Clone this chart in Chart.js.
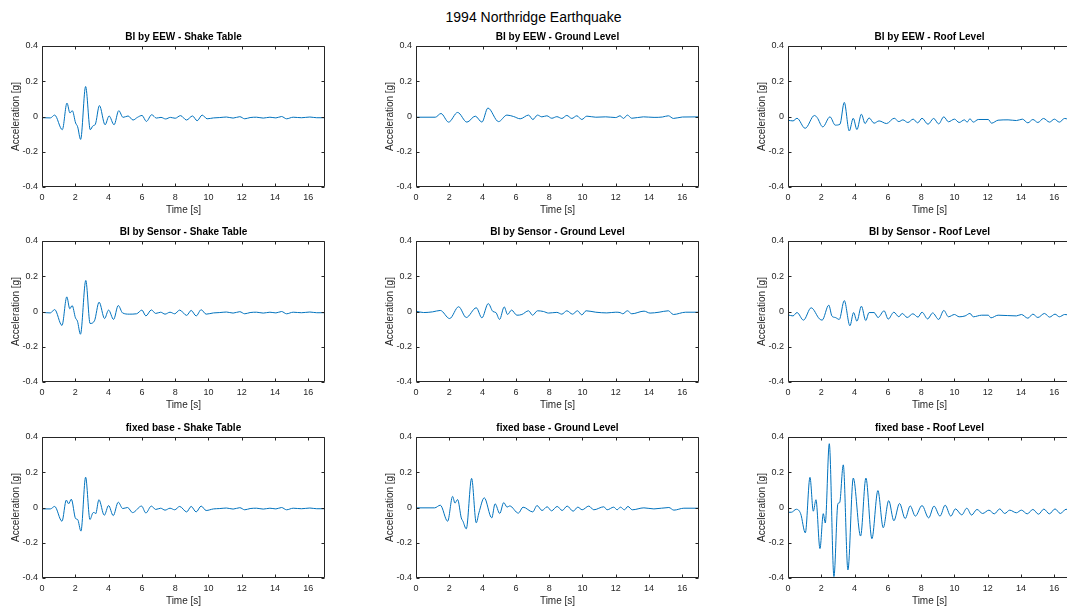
<!DOCTYPE html>
<html>
<head>
<meta charset="utf-8">
<script src="https://cdn.jsdelivr.net/npm/chart.js@4.4.1/dist/chart.umd.min.js"></script>
<style>
  body {
    margin: 0;
    width: 1067px;
    height: 608px;
    overflow: hidden;
    background: #fff;
    position: relative;
    font-family: "Liberation Sans", Arial, sans-serif;
  }
  #main-title {
    position: absolute;
    left: 0;
    top: 9px;
    width: 1067px;
    text-align: center;
    font-size: 14px;
    line-height: 16px;
    color: #000;
  }
  .panel {
    position: absolute;
  }
</style>
</head>
<body>
<div id="main-title">1994 Northridge Earthquake</div>
<div id="panels"></div>
<script>
// tick labels
const xTicks = [0, 2, 4, 6, 8, 10, 12, 14, 16];
const yTicks = [-0.4, -0.2, 0, 0.2, 0.4];

const panelTitles = [
  "BI by EEW - Shake Table", "BI by EEW - Ground Level", "BI by EEW - Roof Level",
  "BI by Sensor - Shake Table", "BI by Sensor - Ground Level", "BI by Sensor - Roof Level",
  "fixed base - Shake Table", "fixed base - Ground Level", "fixed base - Roof Level",
];

// BI by EEW - Shake Table
const eewTableT = [0, 0.5, 0.76, 1.22, 1.5, 1.68, 1.82, 2.02, 2.14, 2.32,
  2.62, 2.9, 3.06, 3.2, 3.45, 3.79, 4.03, 4.33, 4.61, 4.87,
  5.17, 5.47, 5.73, 6.01, 6.27, 6.59, 6.87, 7.15, 7.43, 7.71,
  8.0, 8.32, 8.68, 9.04, 9.32, 9.62, 9.92, 10.3, 10.68, 11.08,
  11.48, 11.88, 12.18, 12.5, 12.89, 13.29, 13.69, 14.05, 14.39, 14.69,
  15.09, 15.59, 16.09, 16.5, 17];
const eewTableA = [-0.007, -0.008, 0.008, -0.075, 0.076, 0.02, 0.033, -0.037, -0.058, -0.13,
  0.17, -0.075, -0.053, -0.045, 0.062, -0.047, 0.003, -0.047, 0.033, -0.005,
  0.003, -0.02, -0.005, 0.006, -0.028, 0.01, -0.009, -0.005, -0.014, -0.005,
  -0.01, 0.005, -0.02, 0.003, -0.024, 0.008, -0.013, -0.008, -0.006, -0.003,
  -0.009, -0.001, -0.013, -0.006, -0.004, -0.009, -0.004, -0.008, 0.0, -0.013,
  -0.004, -0.007, -0.003, -0.007, -0.007];

// BI by EEW - Ground Level
const eewGroundT = [0, 1.16, 1.5, 1.96, 2.5, 3.06, 3.56, 3.96, 4.32, 4.96,
  5.46, 5.86, 6.26, 6.76, 7.02, 7.3, 7.56, 7.86, 8.16, 8.46,
  8.76, 9.06, 9.36, 9.66, 9.96, 10.26, 10.8, 11.4, 12.0, 12.26,
  12.46, 12.7, 12.96, 13.66, 14.3, 14.8, 15.16, 15.46, 16.0, 17];
const eewGroundA = [-0.004, -0.004, 0.017, -0.032, 0.023, -0.032, 0.002, -0.032, 0.048, -0.029,
  0.008, 0.0, -0.013, 0.008, -0.017, 0.008, -0.002, 0.004, -0.01, -0.001,
  -0.011, 0.006, -0.011, 0.004, -0.017, 0.002, -0.004, -0.002, -0.006, 0.004,
  -0.011, 0.008, -0.01, -0.002, -0.005, -0.003, 0.004, -0.011, -0.003, -0.002];

// BI by EEW - Roof Level
const eewRoofT = [0, 0.3, 0.54, 1.03, 1.59, 1.75, 2.09, 2.52, 2.84, 3.12,
  3.38, 3.68, 3.92, 4.14, 4.41, 4.63, 4.87, 5.17, 5.47, 5.92,
  6.38, 6.66, 6.9, 7.2, 7.52, 7.79, 8.05, 8.41, 8.75, 9.05,
  9.36, 9.64, 10.0, 10.28, 10.6, 10.76, 10.93, 11.13, 11.43, 12.03,
  12.23, 12.62, 13.22, 13.72, 14.08, 14.41, 14.71, 15.01, 15.35, 15.71,
  16.0, 16.3, 16.62, 17];
const eewRoofA = [-0.021, -0.025, -0.01, -0.067, 0.006, -0.006, -0.059, -0.002, -0.049, -0.044,
  0.08, -0.082, -0.01, -0.074, 0.013, -0.04, -0.008, -0.038, -0.025, -0.04,
  -0.01, -0.029, -0.019, -0.034, -0.015, -0.036, -0.01, -0.044, -0.011, -0.042,
  -0.002, -0.03, -0.015, -0.034, -0.019, -0.032, -0.013, -0.032, -0.017, -0.017,
  -0.038, -0.021, -0.019, -0.023, -0.015, -0.036, -0.017, -0.034, -0.011, -0.032,
  -0.015, -0.032, -0.011, -0.024];

// BI by Sensor - Shake Table
const sensorTableT = [0, 0.5, 0.76, 1.2, 1.49, 1.67, 1.81, 2.01, 2.13, 2.31,
  2.63, 2.89, 3.15, 3.43, 3.76, 4.0, 4.3, 4.58, 4.84, 5.24,
  5.68, 6.0, 6.24, 6.57, 6.83, 7.13, 7.39, 7.69, 7.97, 8.27,
  8.69, 8.96, 9.26, 9.56, 9.86, 10.3, 10.68, 11.08, 11.48, 11.88,
  12.18, 12.5, 12.89, 13.29, 13.69, 14.05, 14.39, 14.69, 15.09, 15.59,
  16.09, 16.5, 17];
const sensorTableA = [-0.005, -0.008, 0.011, -0.079, 0.083, 0.015, 0.034, -0.036, -0.055, -0.129,
  0.176, -0.068, -0.053, 0.053, -0.04, 0.008, -0.045, 0.034, -0.008, -0.015,
  -0.013, 0.008, -0.025, 0.009, -0.011, -0.004, -0.015, -0.004, -0.013, 0.008,
  -0.022, 0.006, -0.025, 0.01, -0.015, -0.008, -0.006, -0.003, -0.009, -0.001,
  -0.013, -0.006, -0.004, -0.009, -0.004, -0.008, 0.0, -0.013, -0.004, -0.007,
  -0.003, -0.007, -0.007];

// BI by Sensor - Ground Level
const sensorGroundT = [0, 0.46, 1.0, 1.46, 2.02, 2.56, 3.02, 3.62, 3.96, 4.34,
  4.62, 4.8, 5.02, 5.3, 5.5, 5.74, 6.06, 6.36, 6.76, 7.0,
  7.3, 7.66, 7.96, 8.46, 8.76, 9.06, 9.4, 9.7, 9.96, 10.22,
  10.8, 11.46, 12.0, 12.26, 12.42, 12.7, 12.96, 13.7, 14.06, 14.6,
  15.16, 15.46, 16.2, 17];
const sensorGroundA = [0.002, -0.006, -0.002, 0.006, -0.04, 0.027, -0.034, 0.021, -0.036, 0.045,
  0.0, -0.006, -0.045, 0.026, -0.017, 0.008, -0.021, -0.017, 0.004, -0.021,
  0.004, 0.0, -0.009, -0.005, -0.015, 0.004, -0.015, 0.004, -0.019, 0.004,
  -0.004, -0.008, -0.004, -0.006, -0.013, 0.004, -0.013, 0.002, -0.009, -0.004,
  0.004, -0.017, -0.004, -0.004];

// BI by Sensor - Roof Level
const sensorRoofT = [0, 0.3, 0.54, 0.93, 1.39, 1.89, 2.05, 2.45, 2.64, 2.84,
  3.08, 3.38, 3.72, 3.94, 4.14, 4.41, 4.67, 4.87, 5.17, 5.41,
  5.77, 6.02, 6.36, 6.66, 6.86, 7.16, 7.5, 7.81, 8.05, 8.39,
  8.69, 9.05, 9.36, 9.64, 10.0, 10.28, 10.64, 10.93, 11.13, 11.63,
  12.03, 12.19, 12.62, 13.72, 14.02, 14.41, 14.71, 15.01, 15.41, 15.71,
  16.04, 16.3, 16.62, 17];
const sensorRoofA = [-0.019, -0.025, -0.006, -0.049, 0.021, -0.042, -0.049, 0.036, -0.026, -0.034,
  -0.045, 0.062, -0.081, -0.006, -0.055, 0.03, -0.051, -0.006, -0.006, -0.034,
  0.004, -0.043, -0.004, -0.03, -0.011, -0.034, -0.013, -0.032, -0.004, -0.042,
  -0.008, -0.045, 0.006, -0.03, -0.017, -0.03, -0.025, -0.011, -0.03, -0.021,
  -0.021, -0.036, -0.021, -0.025, -0.017, -0.038, -0.015, -0.034, -0.011, -0.032,
  -0.015, -0.03, -0.017, -0.022];

// fixed base - Shake Table
const fixedTableT = [0, 0.5, 0.76, 1.2, 1.46, 1.6, 1.76, 2.02, 2.14, 2.34,
  2.62, 2.88, 3.06, 3.14, 3.22, 3.42, 3.74, 4.0, 4.28, 4.58,
  4.85, 5.14, 5.44, 5.98, 6.24, 6.57, 6.83, 7.13, 7.39, 7.69,
  7.97, 8.27, 8.69, 8.96, 9.26, 9.56, 9.86, 10.3, 10.68, 11.08,
  11.48, 11.88, 12.18, 12.5, 12.89, 13.29, 13.69, 14.05, 14.39, 14.69,
  15.09, 15.59, 16.09, 16.5, 17];
const fixedTableA = [-0.008, -0.008, 0.006, -0.078, 0.042, 0.021, 0.047, -0.063, -0.068, -0.134,
  0.172, -0.068, -0.03, -0.028, -0.036, 0.044, -0.044, 0.011, -0.046, 0.03,
  -0.006, 0.0, -0.029, 0.008, -0.031, 0.008, -0.011, -0.004, -0.015, -0.004,
  -0.013, 0.006, -0.025, 0.006, -0.025, 0.008, -0.017, -0.008, -0.006, -0.003,
  -0.009, -0.001, -0.013, -0.006, -0.004, -0.009, -0.004, -0.008, 0.0, -0.013,
  -0.004, -0.007, -0.003, -0.007, -0.007];

// fixed base - Ground Level
const fixedGroundT = [0, 1.12, 1.46, 1.9, 2.2, 2.34, 2.5, 2.72, 2.82, 3.02,
  3.34, 3.62, 3.78, 4.1, 4.55, 4.75, 5.03, 5.27, 5.47, 5.63,
  6.15, 6.43, 7.01, 7.27, 7.57, 7.88, 8.14, 8.48, 8.78, 9.08,
  9.44, 9.72, 9.98, 10.38, 10.68, 11.28, 11.48, 11.88, 12.08, 12.28,
  12.52, 12.73, 12.99, 13.69, 14.29, 15.19, 15.49, 16.09, 17];
const fixedGroundA = [-0.002, -0.002, 0.013, -0.078, 0.063, 0.025, 0.045, -0.059, -0.078, -0.121,
  0.165, -0.087, -0.03, 0.055, -0.059, 0.021, -0.034, 0.028, 0.002, 0.009,
  -0.032, 0.002, -0.025, 0.011, -0.017, 0.004, -0.019, 0.006, -0.017, 0.008,
  -0.021, 0.002, -0.013, 0.008, -0.013, 0.004, -0.013, 0.002, -0.013, 0.002,
  -0.013, 0.006, -0.013, -0.002, -0.008, 0.0, -0.015, -0.004, -0.004];

// fixed base - Roof Level
const fixedRoofT = [0, 0.2, 0.5, 0.76, 1.04, 1.32, 1.52, 1.68, 1.92, 2.12,
  2.24, 2.48, 2.76, 3.0, 3.1, 3.32, 3.6, 3.92, 4.36, 4.68,
  5.04, 5.4, 5.72, 6.05, 6.36, 6.7, 7.04, 7.34, 7.65, 8.05,
  8.45, 8.77, 9.13, 9.44, 9.78, 10.06, 10.44, 10.74, 11.03, 11.35,
  11.69, 12.07, 12.39, 12.72, 13.02, 13.32, 13.72, 14.02, 14.37, 14.71,
  15.05, 15.37, 15.7, 16.04, 16.36, 16.7, 17];
const fixedRoofA = [-0.027, -0.027, -0.01, -0.035, -0.144, 0.171, -0.021, 0.044, -0.233, -0.035,
  -0.088, 0.362, -0.392, 0.023, 0.027, 0.242, -0.354, 0.167, -0.162, 0.167,
  -0.177, 0.096, -0.115, 0.039, -0.075, 0.023, -0.063, 0.009, -0.049, 0.011,
  -0.059, 0.008, -0.049, 0.013, -0.049, -0.008, -0.042, -0.004, -0.043, -0.011,
  -0.034, -0.015, -0.036, -0.008, -0.034, -0.015, -0.03, -0.015, -0.036, -0.011,
  -0.038, -0.009, -0.036, -0.008, -0.034, -0.01, -0.022];

const seriesTimes = [eewTableT, eewGroundT, eewRoofT, sensorTableT, sensorGroundT, sensorRoofT, fixedTableT, fixedGroundT, fixedRoofT];
const seriesAcc = [eewTableA, eewGroundA, eewRoofA, sensorTableA, sensorGroundA, sensorRoofA, fixedTableA, fixedGroundA, fixedRoofA];

// layout of the 3x3 grid (plot area corners)
const colLeft = [42, 416, 788];
const rowTop = [46, 241, 437];
const plotW = 283;
const plotH = 141;
const yAxisW = 42;
const topPad = 20;
const xAxisH = 31;
const rightPad = 12;

const fontFamily = '"Liberation Sans", Arial, sans-serif';
const axisColor = "#262626";
const lineColor = "#0072BD";

// matlab-style box, inward ticks and bold panel title
const matlabAxes = {
  id: "matlabAxes",
  afterDraw(chart, args, opts) {
    const { ctx, chartArea } = chart;
    const { left, right, top, bottom } = chartArea;
    const x = chart.scales.x;
    const y = chart.scales.y;
    ctx.save();
    ctx.strokeStyle = axisColor;
    ctx.lineWidth = 1;
    ctx.beginPath();
    ctx.rect(left + 0.5, top + 0.5, right - left - 1, bottom - top - 1);
    for (const v of xTicks) {
      const px = Math.round(x.getPixelForValue(v)) + 0.5;
      ctx.moveTo(px, bottom - 0.5);
      ctx.lineTo(px, bottom - 3.5);
      ctx.moveTo(px, top + 0.5);
      ctx.lineTo(px, top + 3.5);
    }
    for (const v of yTicks) {
      const py = Math.round(y.getPixelForValue(v)) + 0.5;
      ctx.moveTo(left + 0.5, py);
      ctx.lineTo(left + 3.5, py);
      ctx.moveTo(right - 0.5, py);
      ctx.lineTo(right - 3.5, py);
    }
    ctx.stroke();

    ctx.fillStyle = "#000";
    ctx.font = "bold 10px " + fontFamily;
    ctx.textAlign = "center";
    ctx.textBaseline = "middle";
    ctx.fillText(opts.text, (left + right) / 2, top - 8.5);
    ctx.restore();
  },
};

const panelsDiv = document.getElementById("panels");

panelTitles.forEach((title, i) => {
  const row = Math.floor(i / 3);
  const col = i % 3;
  const times = seriesTimes[i];
  const acc = seriesAcc[i];
  const n = Math.min(times.length, acc.length);
  const points = [];
  for (let k = 0; k < n; k++) {
    points.push({ x: times[k], y: acc[k] });
  }

  const div = document.createElement("div");
  div.className = "panel";
  const w = yAxisW + plotW + rightPad;
  const h = topPad + plotH + xAxisH;
  div.style.left = colLeft[col] - yAxisW + "px";
  div.style.top = rowTop[row] - topPad + "px";
  div.style.width = w + "px";
  div.style.height = h + "px";
  const canvas = document.createElement("canvas");
  canvas.width = w;
  canvas.height = h;
  canvas.style.width = w + "px";
  canvas.style.height = h + "px";
  div.appendChild(canvas);
  panelsDiv.appendChild(div);

  new Chart(canvas, {
    type: "line",
    data: {
      datasets: [
        {
          data: points,
          borderColor: lineColor,
          borderWidth: 1,
          pointRadius: 0,
          fill: false,
          cubicInterpolationMode: "monotone",
        },
      ],
    },
    options: {
      responsive: false,
      animation: false,
      devicePixelRatio: 1,
      layout: { padding: { top: topPad, right: rightPad, left: 0, bottom: 0 } },
      plugins: {
        legend: { display: false },
        tooltip: { enabled: false },
        matlabAxes: { text: title },
      },
      scales: {
        x: {
          type: "linear",
          min: 0,
          max: 17,
          grid: { display: false, drawTicks: false },
          border: { display: false },
          afterBuildTicks: (scale) => {
            scale.ticks = xTicks.map((v) => ({ value: v }));
          },
          afterFit: (scale) => {
            scale.height = xAxisH;
          },
          ticks: {
            font: { size: 9, family: fontFamily },
            color: axisColor,
            padding: 5,
            maxRotation: 0,
            autoSkip: false,
          },
          title: {
            display: true,
            text: "Time [s]",
            font: { size: 10, family: fontFamily },
            color: axisColor,
            padding: { top: 0, bottom: 2 },
          },
        },
        y: {
          type: "linear",
          min: -0.4,
          max: 0.4,
          grid: { display: false, drawTicks: false },
          border: { display: false },
          afterBuildTicks: (scale) => {
            scale.ticks = yTicks.map((v) => ({ value: v }));
          },
          afterFit: (scale) => {
            scale.width = yAxisW;
          },
          ticks: {
            font: { size: 9, family: fontFamily },
            color: axisColor,
            padding: 4,
            callback: (v) => (v === 0 ? "0" : v.toFixed(1)),
          },
          title: {
            display: true,
            text: "Acceleration [g]",
            font: { size: 10, family: fontFamily },
            color: axisColor,
            padding: { top: 10, bottom: 0 },
          },
        },
      },
    },
    plugins: [matlabAxes],
  });
});
</script>
</body>
</html>
